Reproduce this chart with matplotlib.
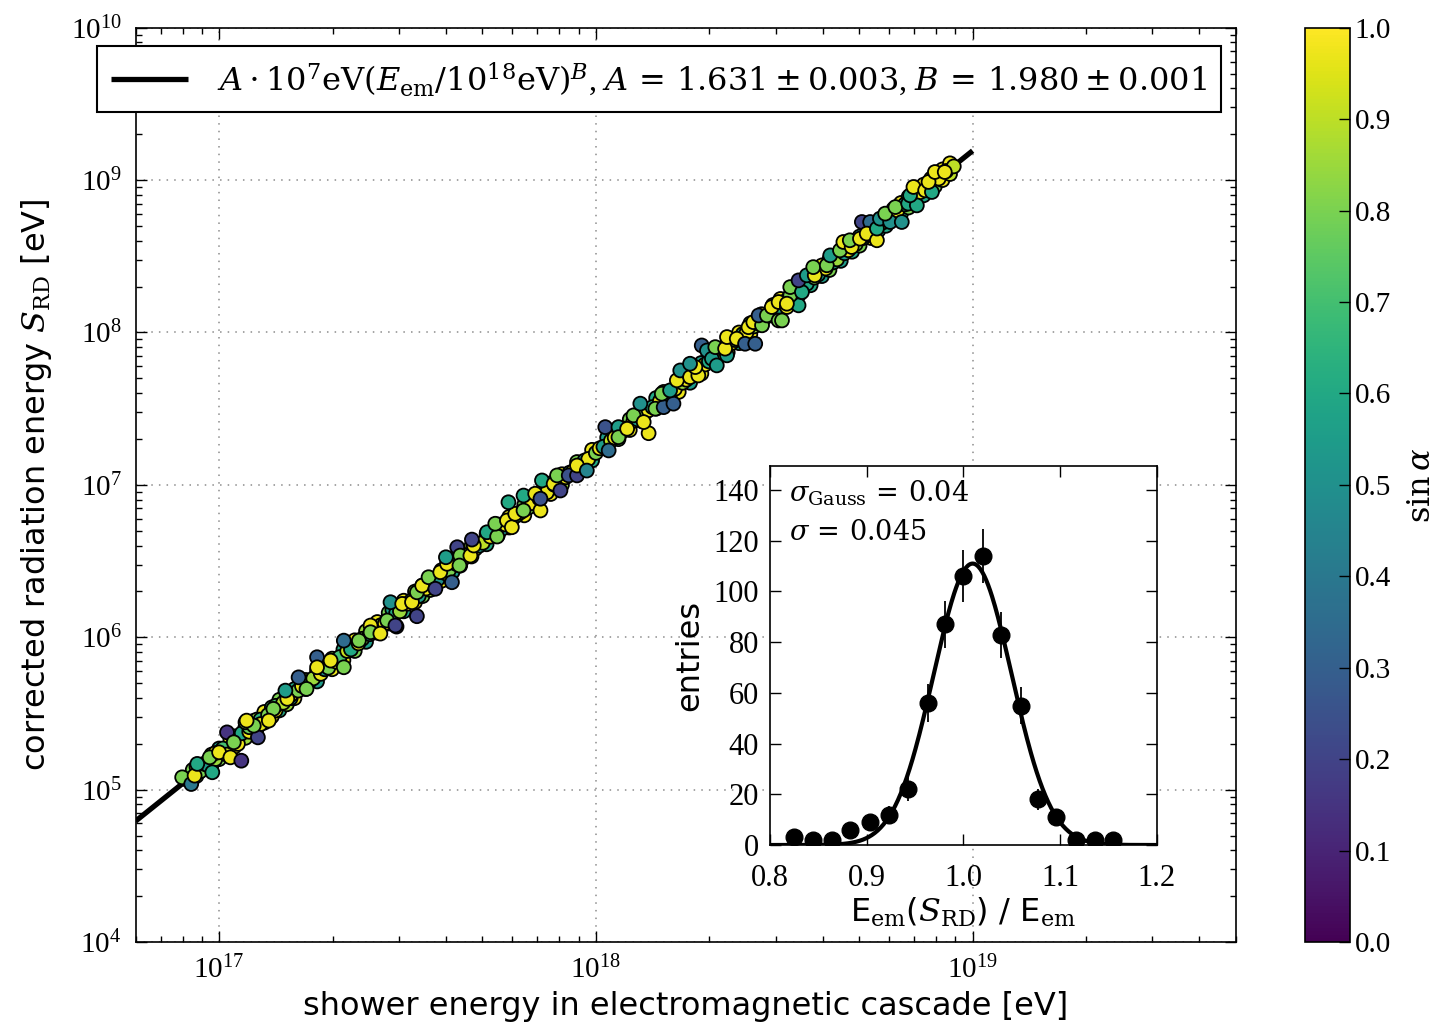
import numpy as np
import matplotlib
matplotlib.use("Agg")
import matplotlib.pyplot as plt
from matplotlib.ticker import NullFormatter

plt.rcParams.update({
    "font.family": "serif",
    "font.serif": ["Liberation Serif", "DejaVu Serif"],
    "mathtext.fontset": "dejavuserif",
    "xtick.direction": "in",
    "ytick.direction": "in",
    "xtick.top": True,
    "ytick.right": True,
    "axes.linewidth": 1.2,
})

# ---------------- data: main scatter ----------------
# log10 of shower energy [eV]
log_E = [
    16.93, 16.93, 16.94, 16.94, 16.98, 16.98, 17.00, 17.00, 17.03, 17.03, 17.04, 17.04, 17.07, 17.07,
    17.09, 17.09, 17.10, 17.10, 17.12, 17.12, 17.14, 17.14, 17.16, 17.16, 17.18, 17.18, 17.20, 17.20,
    17.23, 17.23, 17.26, 17.26, 17.30, 17.30, 17.33, 17.33, 17.36, 17.36, 17.39, 17.39, 17.42, 17.42,
    17.45, 17.45, 17.46, 17.46, 17.49, 17.49, 17.52, 17.52, 17.54, 17.54, 17.56, 17.56, 17.59, 17.59,
    17.62, 17.62, 17.64, 17.64, 17.67, 17.67, 17.71, 17.71, 17.74, 17.74, 17.77, 17.77, 17.81, 17.81,
    17.84, 17.84, 17.88, 17.88, 17.91, 17.91, 17.95, 17.95, 17.99, 17.99, 18.03, 18.03, 18.06, 18.06,
    18.09, 18.09, 18.12, 18.12, 18.16, 18.16, 18.18, 18.18, 18.22, 18.22, 18.25, 18.25, 18.28, 18.28,
    18.32, 18.32, 18.35, 18.35, 18.38, 18.38, 18.41, 18.41, 18.44, 18.44, 18.47, 18.47, 18.49, 18.49,
    18.52, 18.52, 18.54, 18.54, 18.57, 18.57, 18.60, 18.60, 18.62, 18.62, 18.65, 18.65, 18.68, 18.68,
    18.70, 18.70, 18.73, 18.73, 18.75, 18.75, 18.77, 18.77, 18.79, 18.79, 18.81, 18.81, 18.83, 18.83,
    18.85, 18.85, 18.87, 18.87, 18.89, 18.89, 18.90, 18.90, 18.92, 18.92, 18.94, 18.94,
    16.91, 16.92, 16.95, 16.96, 16.97, 16.99, 16.99, 17.01, 17.02, 17.05, 17.05, 17.06, 17.08, 17.08,
    17.11, 17.11, 17.13, 17.15, 17.15, 17.17, 17.19, 17.19, 17.21, 17.22, 17.24, 17.25, 17.27, 17.28,
    17.29, 17.31, 17.32, 17.34, 17.35, 17.37, 17.38, 17.40, 17.41, 17.43, 17.44, 17.47, 17.48, 17.50,
    17.51, 17.53, 17.55, 17.57, 17.58, 17.60, 17.61, 17.63, 17.65, 17.66, 17.68, 17.69, 17.70, 17.72,
    17.73, 17.75, 17.76, 17.78, 17.79, 17.80, 17.82, 17.83, 17.85, 17.86, 17.87, 17.89, 17.90, 17.92,
    17.93, 17.94, 17.96, 17.97, 17.98, 18.00, 18.01, 18.02, 18.04, 18.05, 18.07, 18.08, 18.10, 18.11,
    18.13, 18.14, 18.15, 18.17, 18.19, 18.20, 18.21, 18.23, 18.24, 18.26, 18.27, 18.29, 18.30, 18.31,
    18.33, 18.34, 18.36, 18.37, 18.39, 18.40, 18.42, 18.43, 18.45, 18.46, 18.48, 18.50, 18.51, 18.53,
    18.55, 18.56, 18.58, 18.59, 18.61, 18.63, 18.64, 18.66, 18.67, 18.69, 18.71, 18.72, 18.74, 18.76,
    18.78, 18.80, 18.82, 18.84, 18.86, 18.88, 18.91, 18.93, 18.95,
    16.902, 16.926, 16.935, 16.942, 16.975, 16.982, 17.000, 17.021, 17.030, 17.059, 17.039, 17.070,
    17.103, 17.092, 17.073, 17.144, 17.132, 17.181, 17.176, 17.211, 17.232, 17.260, 17.260, 17.296,
    17.331, 17.331, 17.371, 17.402, 17.471, 17.402,
    17.525, 17.428, 17.446, 17.468, 17.455, 17.486, 17.512, 17.525, 17.539, 17.556, 17.574, 17.587,
    17.605, 17.618, 17.602, 17.632, 17.640, 17.638, 17.667, 17.676, 17.671, 17.711, 17.738, 17.733,
    17.764, 17.777, 17.786, 17.768, 17.808, 17.808, 17.839, 17.853, 17.853, 17.857, 17.888, 17.906,
    17.897, 17.928, 17.950, 17.950, 17.976,
    18.140, 18.034, 18.025, 18.060, 18.060, 18.083, 18.100, 18.118, 18.127, 18.158, 18.180, 18.206,
    18.175, 18.197, 18.215, 18.224, 18.250, 18.272, 18.264, 18.250, 18.281, 18.295, 18.308, 18.317,
    18.321, 18.348, 18.343, 18.348, 18.374, 18.396, 18.423, 18.405, 18.418, 18.441, 18.432, 18.454,
    18.467, 18.485, 18.485, 18.507, 18.538, 18.516,
    18.494, 18.507, 18.516, 18.547, 18.538, 18.560, 18.581, 18.577, 18.613, 18.622, 18.648, 18.657,
    18.679, 18.674, 18.701, 18.706, 18.728, 18.719, 18.746, 18.746, 18.754, 18.781, 18.812, 18.768,
    18.795, 18.829, 18.852, 18.834, 18.843, 18.874, 18.892, 18.883, 18.900, 18.926,
]
# log10 of corrected radiation energy [eV]
log_S = [
    5.13, 5.07, 5.15, 5.09, 5.23, 5.16, 5.27, 5.20, 5.33, 5.26, 5.35, 5.28, 5.41, 5.34,
    5.45, 5.38, 5.46, 5.40, 5.51, 5.44, 5.54, 5.48, 5.59, 5.52, 5.62, 5.56, 5.66, 5.60,
    5.72, 5.66, 5.78, 5.71, 5.86, 5.79, 5.92, 5.85, 5.98, 5.91, 6.04, 5.97, 6.10, 6.03,
    6.16, 6.09, 6.18, 6.11, 6.24, 6.17, 6.30, 6.23, 6.34, 6.27, 6.38, 6.31, 6.44, 6.37,
    6.50, 6.43, 6.54, 6.47, 6.60, 6.53, 6.68, 6.61, 6.74, 6.67, 6.79, 6.72, 6.87, 6.80,
    6.93, 6.86, 7.01, 6.94, 7.07, 7.00, 7.15, 7.08, 7.23, 7.16, 7.31, 7.24, 7.37, 7.30,
    7.43, 7.36, 7.49, 7.42, 7.57, 7.50, 7.61, 7.54, 7.69, 7.61, 7.74, 7.67, 7.80, 7.73,
    7.88, 7.81, 7.94, 7.87, 8.00, 7.93, 8.06, 7.99, 8.12, 8.05, 8.18, 8.11, 8.22, 8.15,
    8.28, 8.21, 8.32, 8.25, 8.38, 8.31, 8.44, 8.37, 8.48, 8.41, 8.54, 8.47, 8.60, 8.53,
    8.63, 8.57, 8.69, 8.62, 8.73, 8.67, 8.77, 8.70, 8.81, 8.74, 8.85, 8.78, 8.89, 8.82,
    8.93, 8.86, 8.97, 8.90, 9.01, 8.94, 9.03, 8.96, 9.07, 9.00, 9.11, 9.04,
    5.07, 5.06, 5.12, 5.17, 5.16, 5.20, 5.24, 5.27, 5.23, 5.34, 5.30, 5.37, 5.38, 5.41,
    5.46, 5.43, 5.49, 5.52, 5.55, 5.57, 5.60, 5.62, 5.65, 5.68, 5.71, 5.73, 5.76, 5.79,
    5.80, 5.84, 5.87, 5.91, 5.92, 5.96, 5.99, 6.02, 6.04, 6.08, 6.09, 6.16, 6.17, 6.22,
    6.24, 6.27, 6.32, 6.35, 6.38, 6.42, 6.44, 6.48, 6.52, 6.54, 6.58, 6.60, 6.62, 6.66,
    6.69, 6.71, 6.74, 6.78, 6.80, 6.82, 6.85, 6.88, 6.91, 6.94, 6.95, 7.00, 7.02, 7.05,
    7.08, 7.09, 7.13, 7.16, 7.17, 7.21, 7.24, 7.25, 7.29, 7.31, 7.35, 7.37, 7.42, 7.43,
    7.47, 7.49, 7.51, 7.55, 7.59, 7.61, 7.63, 7.67, 7.69, 7.73, 7.75, 7.79, 7.81, 7.83,
    7.87, 7.89, 7.93, 7.95, 7.99, 8.00, 8.04, 8.06, 8.10, 8.12, 8.16, 8.20, 8.22, 8.26,
    8.30, 8.32, 8.36, 8.38, 8.42, 8.46, 8.48, 8.52, 8.54, 8.58, 8.62, 8.64, 8.68, 8.72,
    8.76, 8.80, 8.84, 8.87, 8.92, 8.95, 9.01, 9.06, 9.09,
    5.081, 5.037, 5.092, 5.169, 5.212, 5.114, 5.245, 5.376, 5.212, 5.190, 5.311, 5.442,
    5.343, 5.420, 5.453, 5.530, 5.453, 5.596, 5.650, 5.737, 5.661, 5.869, 5.803, 5.847,
    5.803, 5.978, 5.978, 6.077, 6.070, 6.033,
    6.138, 6.024, 6.110, 6.077, 6.230, 6.219, 6.230, 6.295, 6.339, 6.394, 6.318, 6.427,
    6.482, 6.361, 6.525, 6.591, 6.536, 6.471, 6.536, 6.602, 6.641, 6.689, 6.661, 6.745,
    6.766, 6.722, 6.810, 6.886, 6.930, 6.832, 6.942, 6.832, 6.909, 7.029, 7.007, 6.963,
    7.062, 7.062, 7.062, 7.127, 7.094,
    7.339, 7.226, 7.379, 7.379, 7.313, 7.368, 7.456, 7.533, 7.412, 7.500, 7.510, 7.533,
    7.598, 7.620, 7.686, 7.751, 7.707, 7.718, 7.773, 7.795, 7.915, 7.882, 7.828, 7.904,
    7.784, 7.850, 7.894, 7.970, 7.959, 7.926, 7.926, 8.035, 8.068, 8.047, 8.112, 8.112,
    8.167, 8.200, 8.079, 8.167, 8.178, 8.244,
    8.079, 8.189, 8.298, 8.265, 8.342, 8.375, 8.375, 8.429, 8.441, 8.506, 8.539, 8.594,
    8.561, 8.605, 8.616, 8.725, 8.725, 8.649, 8.605, 8.682, 8.747, 8.725, 8.725, 8.780,
    8.823, 8.846, 8.834, 8.900, 8.955, 8.933, 8.922, 8.988, 9.053, 9.053,
]
# sin(alpha) colour value of every shower
sin_alpha = [
    .80, .60, .97, .85, .80, .97, .55, .80, .97, .70, .80, .97, .60, .85,
    .97, .80, .85, .60, .97, .80, .70, .97, .80, .60, .97, .85, .60, .97,
    .85, .97, .97, .55, .80, .97, .60, .97, .97, .80, .85, .55, .97, .80,
    .80, .97, .55, .85, .97, .60, .85, .97, .60, .80, .97, .85, .80, .97,
    .97, .55, .60, .97, .85, .80, .97, .60, .55, .97, .97, .80, .80, .97,
    .97, .55, .60, .97, .97, .85, .80, .97, .97, .60, .55, .97, .97, .80,
    .80, .97, .97, .60, .60, .97, .97, .80, .80, .97, .97, .55, .55, .97,
    .97, .80, .80, .97, .97, .60, .60, .97, .97, .80, .80, .97, .97, .60,
    .55, .97, .97, .80, .80, .60, .97, .55, .60, .80, .80, .55, .97, .60,
    .55, .80, .80, .97, .60, .55, .80, .60, .55, .80, .97, .60, .60, .80,
    .80, .55, .97, .60, .97, .60, .97, .80, .97, .97, .97, .90,
    .75, .97, .80, .90, .55, .85, .97, .70, .92, .85, .97, .60, .97, .78,
    .65, .95, .80, .97, .72, .88, .55, .97, .80, .97, .62, .85, .97, .50,
    .80, .97, .70, .92, .60, .97, .80, .55, .97, .80, .97, .60, .85, .97,
    .75, .55, .97, .85, .50, .97, .80, .60, .97, .85, .97, .55, .90, .97,
    .78, .50, .97, .85, .60, .97, .80, .97, .60, .90, .97, .55, .80, .97,
    .60, .97, .85, .50, .97, .80, .97, .55, .90, .97, .60, .85, .97, .55,
    .80, .97, .60, .97, .80, .50, .97, .85, .97, .55, .90, .97, .60, .80,
    .97, .50, .97, .80, .60, .97, .85, .55, .97, .80, .60, .97, .85, .55,
    .90, .60, .80, .55, .97, .60, .85, .55, .97, .80, .60, .97, .55, .85,
    .60, .97, .60, .80, .97, .60, .97, .97, .90,
    .80, .40, .97, .60, .80, .60, .97, .15, .97, .15, .80, .80,
    .20, .80, .97, .80, .97, .97, .55, .30, .80, .30, .97, .97,
    .80, .35, .80, .97, .20, .80,
    .20, .97, .80, .20, .50, .97, .97, .80, .97, .80, .20, .97,
    .97, .30, .55, .20, .80, .80, .97, .97, .20, .60, .80, .80,
    .97, .97, .97, .60, .60, .80, .97, .97, .25, .60, .97, .20,
    .80, .25, .20, .97, .45,
    .97, .35, .25, .55, .80, .97, .80, .50, .97, .80, .30, .30,
    .80, .55, .97, .50, .97, .97, .97, .50, .30, .50, .55, .80,
    .55, .55, .97, .97, .97, .30, .30, .97, .97, .80, .30, .80,
    .97, .97, .80, .97, .60, .80,
    .80, .97, .80, .60, .20, .55, .97, .80, .80, .55, .80, .97,
    .97, .80, .97, .20, .35, .97, .97, .60, .50, .50, .50, .80,
    .80, .60, .60, .60, .97, .97, .60, .97, .97, .97,
]

# fit parameters (legend)
fit_A = 1.631
fit_B = 1.980
fit_E_range = [6e16, 1e19]

# inset histogram: bin centres, entries and their errors
hist_x = [0.825, 0.844, 0.864, 0.883, 0.903, 0.923, 0.943, 0.963, 0.981,
          1.000, 1.020, 1.039, 1.059, 1.077, 1.096, 1.116, 1.136, 1.155]
hist_n = [3, 2, 2, 6, 9, 12, 22, 56, 87, 106, 114, 83, 55, 18, 11, 2, 2, 2]
hist_err = [1.7, 1.4, 1.4, 2.4, 3.0, 3.5, 4.7, 7.5, 9.3, 10.3, 10.7, 9.1, 7.4,
            4.2, 3.3, 1.4, 1.4, 1.4]
gauss_amp, gauss_mu, gauss_sigma = 111.0, 1.0095, 0.0403

# ---------------- figure ----------------
fig = plt.figure(figsize=(14.37, 10.30), dpi=100)
ax = fig.add_axes([0.0943, 0.0854, 0.7658, 0.8877])

E = 10 ** np.array(log_E)
S = 10 ** np.array(log_S)

ax.set_xscale("log")
ax.set_yscale("log")
ax.set_xlim(6e16, 5e19)
ax.set_ylim(1e4, 1e10)
ax.xaxis.set_minor_formatter(NullFormatter())
ax.yaxis.set_minor_formatter(NullFormatter())
ax.set_axisbelow(True)
ax.grid(True, which="major", linestyle=(0, (1, 4)), color="0.55", lw=1.1)

Efit = np.logspace(np.log10(fit_E_range[0]), np.log10(fit_E_range[1]), 50)
ax.plot(Efit, fit_A * 1e7 * (Efit / 1e18) ** fit_B, color="k", lw=3.8, zorder=2,
        solid_capstyle="butt",
        label=r"$A\cdot 10^7\mathrm{eV}(E_\mathrm{em}/10^{18}\mathrm{eV})^B$, "
              r"$A\,=\,1.631 \pm 0.003$, $B\,=\,1.980 \pm 0.001$")
sc = ax.scatter(E, S, c=sin_alpha, cmap="viridis", vmin=0, vmax=1, s=100,
                edgecolors="k", linewidths=1.3, zorder=3)

ax.tick_params(which="major", length=8, width=1, labelsize=21, pad=10)
ax.tick_params(which="minor", length=4, width=1)
ax.set_xlabel("shower energy in electromagnetic cascade [eV]", family="DejaVu Sans",
              fontsize=23, labelpad=5)
ax.set_ylabel(r"corrected radiation energy $S_\mathrm{RD}$ [eV]", family="DejaVu Sans",
              fontsize=23, labelpad=12)

leg = ax.legend(loc="upper left", bbox_to_anchor=(0.0673, 0.9553),
                bbox_transform=fig.transFigure, borderaxespad=0, fontsize=23,
                fancybox=False, framealpha=1, edgecolor="k", handlelength=2.4,
                handletextpad=0.9, borderpad=0.45)
leg.get_frame().set_linewidth(1.5)

# colorbar
cax = fig.add_axes([0.9081, 0.0854, 0.0313, 0.8877])
cb = fig.colorbar(sc, cax=cax, ticks=np.arange(0, 1.01, 0.1))
cb.ax.tick_params(direction="in", length=8, width=1, labelsize=21)
cb.ax.set_yticklabels([f"{v:.1f}" for v in np.arange(0, 1.01, 0.1)])
cb.set_label(r"$\sin\alpha$", fontsize=23, labelpad=12)
cb.outline.set_linewidth(1.2)

# inset
axi = fig.add_axes([0.5358, 0.1796, 0.2693, 0.368])
axi.errorbar(hist_x, hist_n, yerr=hist_err, fmt="o", color="k", ms=12,
             elinewidth=1.3, capsize=0, zorder=3)
xg = np.linspace(0.8, 1.2, 400)
axi.plot(xg, gauss_amp * np.exp(-0.5 * ((xg - gauss_mu) / gauss_sigma) ** 2),
         color="k", lw=3, zorder=2)
axi.set_xlim(0.8, 1.2)
axi.set_ylim(0, 149.5)
axi.set_xticks([0.8, 0.9, 1.0, 1.1, 1.2])
axi.set_yticks(np.arange(0, 141, 20))
axi.tick_params(length=8, width=1, labelsize=22)
axi.tick_params(axis="x", pad=14)
axi.tick_params(axis="y", pad=8)
axi.set_xlabel(r"E$_\mathrm{em}$($S_\mathrm{RD}$) / E$_\mathrm{em}$", family="DejaVu Sans",
               fontsize=23, labelpad=2)
axi.set_ylabel("entries", family="DejaVu Sans", fontsize=23, labelpad=6)
axi.text(0.05, 0.905, r"$\sigma_\mathrm{Gauss}\,=\,0.04$", transform=axi.transAxes,
         fontsize=19.5, va="baseline")
axi.text(0.05, 0.805, r"$\sigma\,=\,0.045$", transform=axi.transAxes,
         fontsize=19.5, va="baseline")

fig.savefig("out.png", dpi=100)
